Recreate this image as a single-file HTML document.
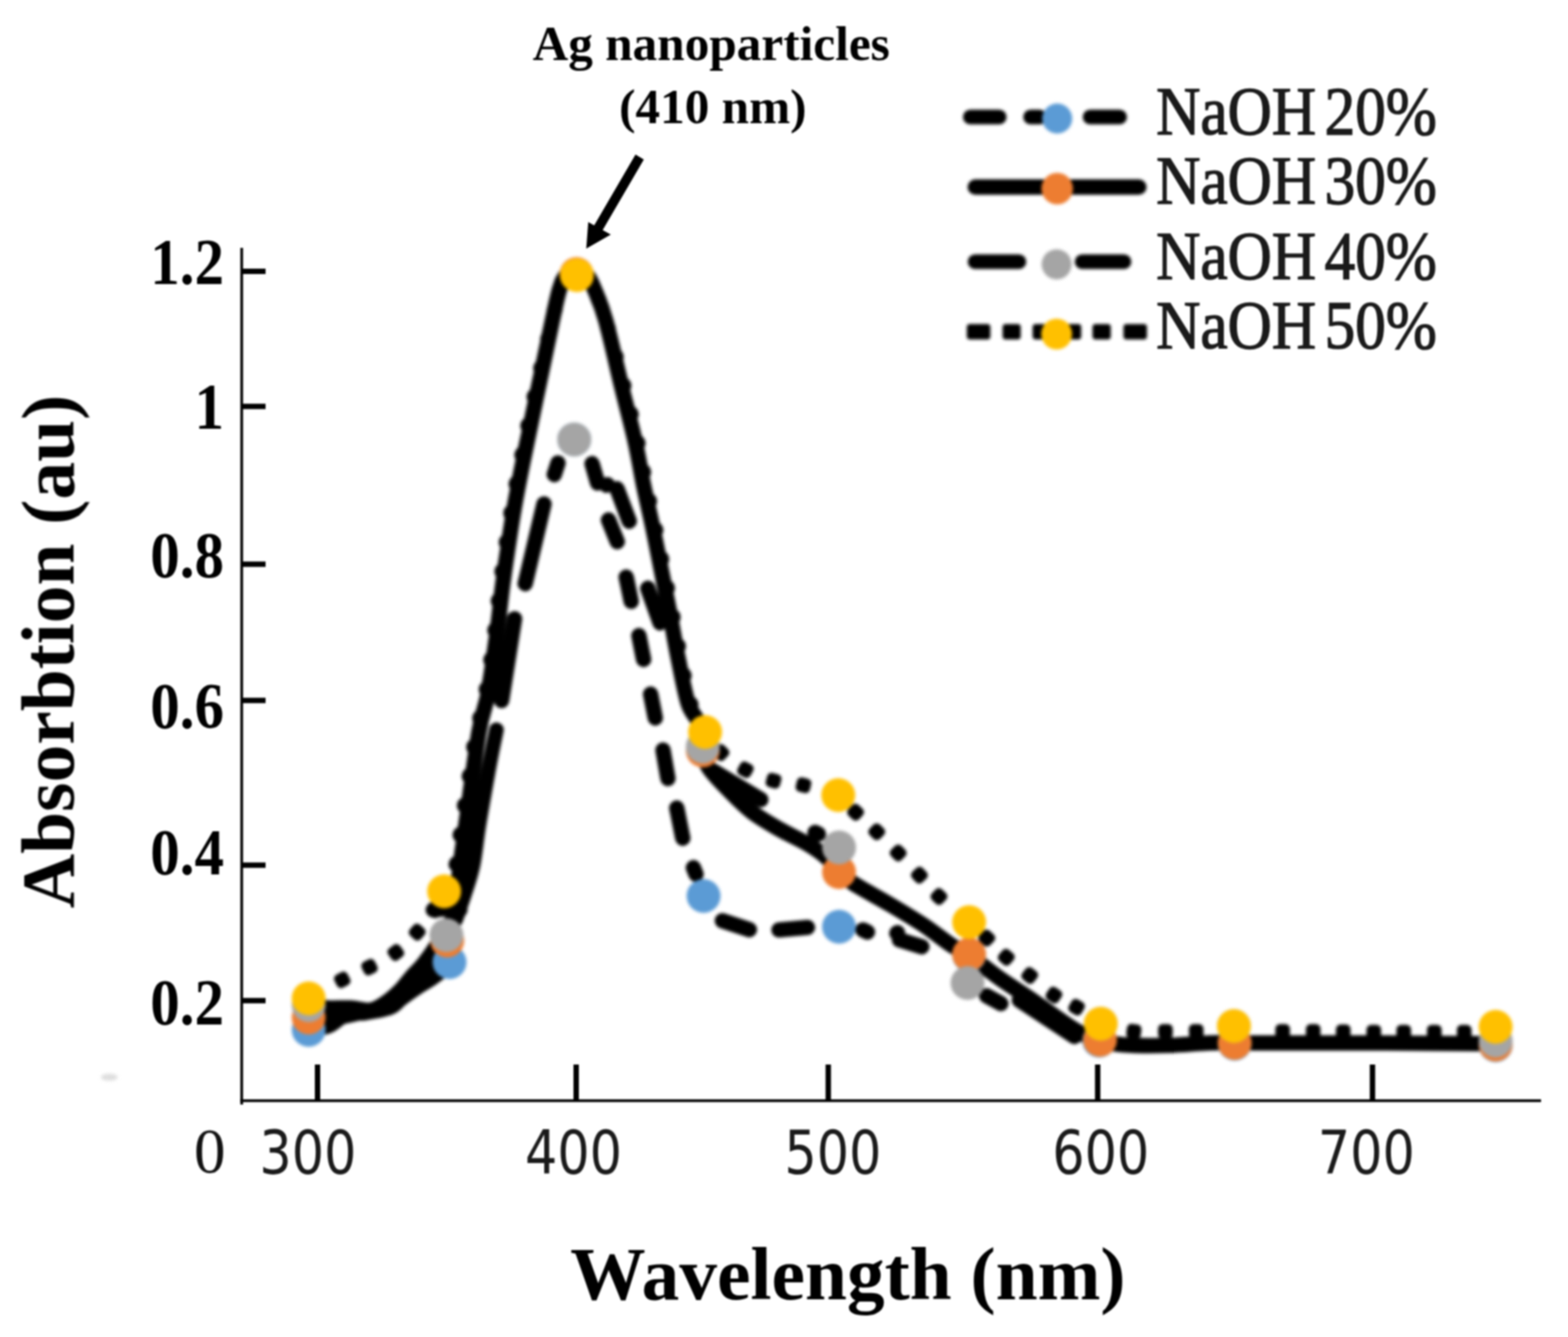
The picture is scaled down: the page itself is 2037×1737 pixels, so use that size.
<!DOCTYPE html>
<html><head><meta charset="utf-8"><title>Absorbtion spectra</title>
<style>html,body{margin:0;padding:0;background:#fff;overflow:hidden;} svg{display:block;}</style>
</head><body>
<svg width="2037" height="1737" viewBox="0 0 2037 1737">
<defs>
<filter id="bs" x="-5%" y="-5%" width="110%" height="110%" color-interpolation-filters="sRGB"><feGaussianBlur stdDeviation="2.2"/></filter>
<filter id="bo" x="-5%" y="-5%" width="110%" height="110%" color-interpolation-filters="sRGB"><feGaussianBlur stdDeviation="0.9"/></filter>
</defs>
<rect width="2037" height="1737" fill="#fff"/>
<g filter="url(#bo)">
<line x1="314" y1="322" x2="314" y2="1435" stroke="#000" stroke-width="3.5"/>
<line x1="312" y1="1430" x2="2002" y2="1430" stroke="#000" stroke-width="3.5"/>
<line x1="314" y1="352.5" x2="345" y2="352.5" stroke="#000" stroke-width="7"/>
<line x1="314" y1="528" x2="345" y2="528" stroke="#000" stroke-width="7"/>
<line x1="314" y1="733" x2="345" y2="733" stroke="#000" stroke-width="7"/>
<line x1="314" y1="910" x2="345" y2="910" stroke="#000" stroke-width="7"/>
<line x1="314" y1="1124" x2="345" y2="1124" stroke="#000" stroke-width="7"/>
<line x1="314" y1="1300" x2="345" y2="1300" stroke="#000" stroke-width="7"/>
<line x1="412.5" y1="1383" x2="412.5" y2="1430" stroke="#000" stroke-width="7"/>
<line x1="748.5" y1="1383" x2="748.5" y2="1430" stroke="#000" stroke-width="7"/>
<line x1="1076" y1="1383" x2="1076" y2="1430" stroke="#000" stroke-width="7"/>
<line x1="1426" y1="1383" x2="1426" y2="1430" stroke="#000" stroke-width="7"/>
<line x1="1783" y1="1383" x2="1783" y2="1430" stroke="#000" stroke-width="7"/>
</g>
<g filter="url(#bs)">
<path d="M401.0,1322.0 C405.8,1322.2 418.5,1324.2 430.0,1323.0 C441.5,1321.8 457.3,1317.8 470.0,1315.0 C482.7,1312.2 496.0,1310.2 506.0,1306.0 C516.0,1301.8 521.8,1297.3 530.0,1290.0 C538.2,1282.7 546.3,1272.3 555.0,1262.0 C563.7,1251.7 576.0,1241.7 582.0,1228.0 C588.0,1214.3 588.3,1197.3 591.0,1180.0 C593.7,1162.7 595.7,1141.8 598.0,1124.0 C600.3,1106.2 601.0,1101.7 605.0,1073.0 C609.0,1044.3 617.2,980.7 622.0,952.0 C626.8,923.3 630.2,921.8 634.0,901.0 C637.8,880.2 641.8,850.5 645.0,827.0 C648.2,803.5 650.5,779.3 653.0,760.0 C655.5,740.7 657.5,727.7 660.0,711.0 C662.5,694.3 664.8,678.5 668.0,660.0 C671.2,641.5 675.4,620.0 679.4,600.0 C683.4,580.0 687.6,560.0 691.8,540.0 C695.9,520.0 700.0,500.6 704.3,480.0 C708.6,459.4 713.8,434.0 717.5,416.7 C721.2,399.4 723.8,386.2 726.7,376.4 C729.6,366.6 731.3,362.4 735.0,358.0 C738.7,353.6 744.3,350.0 749.0,350.0 C753.7,350.0 759.1,353.6 763.0,358.0 C766.9,362.4 768.5,366.6 772.5,376.4 C776.5,386.2 781.1,395.4 787.0,416.7 C792.9,438.0 801.7,477.9 808.0,504.0 C814.3,530.0 820.3,552.0 825.0,573.0 C829.7,594.0 832.2,611.3 836.0,630.0 C839.8,648.7 844.2,666.7 848.0,685.0 C851.8,703.3 855.3,721.5 859.0,740.0 C862.7,758.5 866.3,776.8 870.0,796.0 C873.7,815.2 877.0,835.3 881.0,855.0 C885.0,874.7 889.5,899.8 894.0,914.0 C898.5,928.2 904.8,929.8 908.0,940.0 C911.2,950.2 910.8,965.3 913.0,975.0 C915.2,984.7 915.2,989.2 921.0,998.0 C926.8,1006.8 938.7,1018.5 948.0,1028.0 C957.3,1037.5 966.3,1046.8 977.0,1055.0 C987.7,1063.2 999.8,1070.0 1012.0,1077.0 C1024.2,1084.0 1039.5,1090.7 1050.0,1097.0 C1060.5,1103.3 1068.3,1109.0 1075.0,1115.0 C1081.7,1121.0 1084.3,1127.5 1090.0,1133.0 C1095.7,1138.5 1098.0,1141.0 1109.0,1148.0 C1120.0,1155.0 1140.8,1166.0 1156.0,1175.0 C1171.2,1184.0 1186.7,1193.2 1200.0,1202.0 C1213.3,1210.8 1226.2,1221.5 1236.0,1228.0 C1245.8,1234.5 1251.7,1236.2 1259.0,1241.0 C1266.3,1245.8 1273.2,1251.8 1280.0,1257.0 C1286.8,1262.2 1290.2,1265.2 1300.0,1272.0 C1309.8,1278.8 1327.3,1290.0 1339.0,1298.0 C1350.7,1306.0 1359.8,1313.0 1370.0,1320.0 C1380.2,1327.0 1390.0,1334.5 1400.0,1340.0 C1410.0,1345.5 1418.3,1350.0 1430.0,1353.0 C1441.7,1356.0 1455.0,1357.2 1470.0,1358.0 C1485.0,1358.8 1503.3,1358.5 1520.0,1358.0 C1536.7,1357.5 1556.0,1355.5 1570.0,1355.0 C1584.0,1354.5 1582.3,1355.0 1604.0,1355.0 C1625.7,1355.0 1667.3,1355.0 1700.0,1355.0 C1732.7,1355.0 1759.5,1354.8 1800.0,1355.0 C1840.5,1355.2 1919.2,1355.8 1943.0,1356.0" fill="none" stroke="#000" stroke-width="20" stroke-linejoin="round" stroke-linecap="round"/>
<path d="M645.0,948.0 C644.1,952.5 641.3,965.7 639.5,975.0 C637.7,984.3 636.9,987.7 634.0,1004.0 C631.1,1020.3 625.2,1053.0 622.0,1073.0 C618.8,1093.0 617.5,1109.5 614.5,1124.0 C611.5,1138.5 607.8,1148.2 604.0,1160.0 C600.2,1171.8 594.0,1189.2 592.0,1195.0" fill="none" stroke="#000" stroke-width="19" stroke-linejoin="round" stroke-linecap="round"/>
<path d="M401.0,1306.0 C405.0,1306.5 416.0,1308.5 425.0,1309.0 C434.0,1309.5 445.7,1308.5 455.0,1309.0 C464.3,1309.5 473.5,1313.0 481.0,1312.0 C488.5,1311.0 493.7,1307.2 500.0,1303.0 C506.3,1298.8 513.2,1292.8 519.0,1287.0 C524.8,1281.2 529.8,1273.8 535.0,1268.0 C540.2,1262.2 544.7,1258.7 550.0,1252.0 C555.3,1245.3 561.2,1237.0 567.0,1228.0 C572.8,1219.0 579.8,1205.7 585.0,1198.0 C590.2,1190.3 595.8,1184.7 598.0,1182.0" fill="none" stroke="#000" stroke-width="19" stroke-linejoin="round" stroke-linecap="round"/>
<path d="M401.0,1338.0 C405.3,1337.2 418.8,1336.3 427.0,1333.0 C435.2,1329.7 442.0,1320.8 450.0,1318.0 C458.0,1315.2 465.5,1317.5 475.0,1316.0 C484.5,1314.5 499.2,1312.2 507.0,1309.0 C514.8,1305.8 515.7,1301.7 522.0,1297.0 C528.3,1292.3 538.7,1285.2 545.0,1281.0 C551.3,1276.8 553.5,1276.5 560.0,1272.0 C566.5,1267.5 580.0,1257.0 584.0,1254.0" fill="none" stroke="#000" stroke-width="19" stroke-linejoin="round" stroke-linecap="round"/>
<path d="M577.0,1158.0 C579.6,1152.3 588.8,1138.2 592.5,1124.0 C596.2,1109.8 596.5,1093.0 599.5,1073.0 C602.5,1053.0 607.2,1024.2 610.5,1004.0 C613.8,983.8 615.6,969.2 619.0,952.0 C622.4,934.8 627.2,921.8 631.0,901.0 C634.8,880.2 638.8,850.5 642.0,827.0 C645.2,803.5 647.5,779.3 650.0,760.0 C652.5,740.7 654.5,727.7 657.0,711.0 C659.5,694.3 661.8,678.5 665.0,660.0 C668.2,641.5 672.4,620.0 676.4,600.0 C680.4,580.0 684.5,560.0 688.8,540.0 C693.1,520.0 697.5,500.6 702.3,480.0 C707.1,459.4 713.4,434.0 717.5,416.7 C721.6,399.4 723.8,386.2 726.7,376.4 C729.6,366.6 731.3,362.4 735.0,358.0 C738.7,353.6 744.3,350.0 749.0,350.0 C753.7,350.0 759.1,353.6 763.0,358.0 C766.9,362.4 768.5,366.6 772.5,376.4 C776.5,386.2 780.6,395.4 787.0,416.7 C793.4,438.0 804.2,477.9 811.0,504.0 C817.8,530.0 823.3,552.0 828.0,573.0 C832.7,594.0 835.2,611.3 839.0,630.0 C842.8,648.7 847.2,666.7 851.0,685.0 C854.8,703.3 858.3,721.5 862.0,740.0 C865.7,758.5 869.3,776.8 873.0,796.0 C876.7,815.2 880.0,835.3 884.0,855.0 C888.0,874.7 892.5,899.8 897.0,914.0 C901.5,928.2 907.8,933.8 911.0,940.0 C914.2,946.2 915.2,949.2 916.0,951.0" fill="none" stroke="#000" stroke-width="20" stroke-dasharray="1 37.5" stroke-linecap="round" stroke-dashoffset="0"/>
<rect x="-9.5" y="-9.5" width="19" height="19" rx="6" transform="translate(444.6 1273) rotate(-27.1)"/>
<rect x="-9.5" y="-9.5" width="19" height="19" rx="6" transform="translate(480 1256.5) rotate(-27.0)"/>
<rect x="-9.5" y="-9.5" width="19" height="19" rx="6" transform="translate(514.2 1237.5) rotate(-36.3)"/>
<rect x="-9.5" y="-9.5" width="19" height="19" rx="6" transform="translate(542 1211) rotate(-48.1)"/>
<rect x="-9.5" y="-9.5" width="19" height="19" rx="6" transform="translate(564 1182) rotate(-56.6)"/>
<rect x="-9.5" y="-9.5" width="19" height="19" rx="6" transform="translate(936.6 977.7) rotate(43.1)"/>
<rect x="-9.5" y="-9.5" width="19" height="19" rx="6" transform="translate(968.4 1000) rotate(28.2)"/>
<rect x="-9.5" y="-9.5" width="19" height="19" rx="6" transform="translate(1004.9 1014.3) rotate(14.9)"/>
<rect x="-9.5" y="-9.5" width="19" height="19" rx="6" transform="translate(1043.8 1020.1) rotate(13.0)"/>
<rect x="-9.5" y="-9.5" width="19" height="19" rx="6" transform="translate(1111.5 1055.3) rotate(43.6)"/>
<rect x="-9.5" y="-9.5" width="19" height="19" rx="6" transform="translate(1139 1080.6) rotate(43.7)"/>
<rect x="-9.5" y="-9.5" width="19" height="19" rx="6" transform="translate(1166.8 1108.2) rotate(45.5)"/>
<rect x="-9.5" y="-9.5" width="19" height="19" rx="6" transform="translate(1194.4 1137) rotate(46.8)"/>
<rect x="-9.5" y="-9.5" width="19" height="19" rx="6" transform="translate(1219.8 1164.7) rotate(43.4)"/>
<rect x="-9.5" y="-9.5" width="19" height="19" rx="6" transform="translate(1282 1218.8) rotate(43.4)"/>
<rect x="-9.5" y="-9.5" width="19" height="19" rx="6" transform="translate(1307.3 1243.7) rotate(41.0)"/>
<rect x="-9.5" y="-9.5" width="19" height="19" rx="6" transform="translate(1337.7 1267.3) rotate(38.4)"/>
<rect x="-9.5" y="-9.5" width="19" height="19" rx="6" transform="translate(1369.2 1292.8) rotate(34.1)"/>
<rect x="-9.5" y="-9.5" width="19" height="19" rx="6" transform="translate(1398.6 1308.5) rotate(30.1)"/>
<rect x="-9.5" y="-9.5" width="19" height="19" rx="6" transform="translate(1473 1340) rotate(6.8)"/>
<rect x="-9.5" y="-9.5" width="19" height="19" rx="6" transform="translate(1514 1340) rotate(0.0)"/>
<rect x="-9.5" y="-9.5" width="19" height="19" rx="6" transform="translate(1554 1340) rotate(-1.3)"/>
<rect x="-9.5" y="-9.5" width="19" height="19" rx="6" transform="translate(1666.3 1340) rotate(1.1)"/>
<rect x="-9.5" y="-9.5" width="19" height="19" rx="6" transform="translate(1706 1340) rotate(0.4)"/>
<rect x="-9.5" y="-9.5" width="19" height="19" rx="6" transform="translate(1745 1340.5) rotate(0.7)"/>
<rect x="-9.5" y="-9.5" width="19" height="19" rx="6" transform="translate(1784.7 1341) rotate(0.4)"/>
<rect x="-9.5" y="-9.5" width="19" height="19" rx="6" transform="translate(1823.6 1341) rotate(0.0)"/>
<rect x="-9.5" y="-9.5" width="19" height="19" rx="6" transform="translate(1863.3 1341) rotate(0.0)"/>
<rect x="-9.5" y="-9.5" width="19" height="19" rx="6" transform="translate(1902.2 1341) rotate(-0.7)"/>
<path d="M724.9,601.5 L720.1,616.5 M706.7,654.7 L682.3,758.3 M668.4,803.9 L651.6,910.1 M769.2,602.4 L776.4,627.5 M788.0,630.2 L789.0,629.8 M801.6,635.1 L817.4,677.1 M790.5,675.5 L801.9,703.7 M813.5,749.8 L820.0,781.2 M830.0,825.8 L836.1,856.8 M845.2,901.7 L851.3,932.7 M861.3,974.4 L867.7,1011.4 M879.2,1049.7 L887.0,1088.9 M900.8,1127.3 L904.2,1135.7 M841.5,764.4 L857.5,809.1 M927.6,1002.2 L988.4,1038.8 M1058.9,1081.5 L1063.1,1083.5 M938.5,1196.2 L973.5,1207.8 M1012.0,1208.1 L1049.0,1204.9 M1121.1,1208.2 L1126.9,1210.8 M1168.5,1221.0 L1197.5,1230.0 M1165.1,1212.3 L1165.9,1211.7 M1281.8,1293.8 L1300.2,1303.7 M563.0,1182.0 L594.0,1179.0 M1324.3,1299.5 L1395.7,1346.5" fill="none" stroke="#000" stroke-width="20" stroke-linecap="round"/>
<circle cx="401" cy="1338" r="22" fill="#5B9BD5"/>
<circle cx="584" cy="1250" r="22" fill="#5B9BD5"/>
<circle cx="746" cy="571" r="22" fill="#5B9BD5"/>
<circle cx="914" cy="1164" r="22" fill="#5B9BD5"/>
<circle cx="1090" cy="1204" r="22" fill="#5B9BD5"/>
<circle cx="1259" cy="1241" r="22" fill="#5B9BD5"/>
<circle cx="1428" cy="1352" r="22" fill="#5B9BD5"/>
<circle cx="1604" cy="1356" r="22" fill="#5B9BD5"/>
<circle cx="1943" cy="1358" r="22" fill="#5B9BD5"/>
<circle cx="401" cy="1322" r="22" fill="#ED7D31"/>
<circle cx="581" cy="1222" r="22" fill="#ED7D31"/>
<circle cx="749" cy="356" r="22" fill="#ED7D31"/>
<circle cx="913" cy="975" r="22" fill="#ED7D31"/>
<circle cx="1090" cy="1133" r="22" fill="#ED7D31"/>
<circle cx="1259" cy="1240" r="22" fill="#ED7D31"/>
<circle cx="1429" cy="1351" r="22" fill="#ED7D31"/>
<circle cx="1604" cy="1355" r="22" fill="#ED7D31"/>
<circle cx="1943" cy="1357" r="22" fill="#ED7D31"/>
<circle cx="401" cy="1306" r="22" fill="#A5A5A5"/>
<circle cx="580" cy="1215" r="22" fill="#A5A5A5"/>
<circle cx="746" cy="571" r="22" fill="#A5A5A5"/>
<circle cx="913" cy="970" r="22" fill="#A5A5A5"/>
<circle cx="1090" cy="1101" r="22" fill="#A5A5A5"/>
<circle cx="1257" cy="1277" r="22" fill="#A5A5A5"/>
<circle cx="1430" cy="1330" r="22" fill="#A5A5A5"/>
<circle cx="1603" cy="1333" r="22" fill="#A5A5A5"/>
<circle cx="1943" cy="1352" r="22" fill="#A5A5A5"/>
<circle cx="401" cy="1297" r="22" fill="#FFC000"/>
<circle cx="577" cy="1158" r="22" fill="#FFC000"/>
<circle cx="749.5" cy="357.5" r="22" fill="#FFC000"/>
<circle cx="916" cy="951" r="22" fill="#FFC000"/>
<circle cx="1089" cy="1033" r="22" fill="#FFC000"/>
<circle cx="1259" cy="1198" r="22" fill="#FFC000"/>
<circle cx="1430" cy="1330" r="22" fill="#FFC000"/>
<circle cx="1603" cy="1333" r="22" fill="#FFC000"/>
<circle cx="1943" cy="1334" r="22" fill="#FFC000"/>
<ellipse cx="142" cy="1399.5" rx="11" ry="4.5" fill="#dedede"/>
<path d="M1260.5,152.0 L1298.1,152.0" stroke="#000" stroke-width="19" stroke-linecap="round"/>
<path d="M1338.8,152.0 L1350.5,152.0" stroke="#000" stroke-width="19" stroke-linecap="round"/>
<path d="M1416.1,152.0 L1454.5,152.0" stroke="#000" stroke-width="19" stroke-linecap="round"/>
<circle cx="1373.4" cy="154" r="19.5" fill="#5B9BD5"/>
<path d="M1267.0,243.0 L1479.5,243.0" stroke="#000" stroke-width="20" stroke-linecap="round"/>
<circle cx="1373.4" cy="245" r="20.5" fill="#ED7D31"/>
<path d="M1266.7,340.0 L1323.7,340.0" stroke="#000" stroke-width="19" stroke-linecap="round"/>
<path d="M1405.8,340.0 L1460.2,340.0" stroke="#000" stroke-width="19" stroke-linecap="round"/>
<circle cx="1372.7" cy="343.4" r="19.5" fill="#A5A5A5"/>
<rect x="1256" y="421" width="30.59999999999991" height="20" rx="4" fill="#000"/>
<rect x="1302.5" y="421" width="23.5" height="20" rx="4" fill="#000"/>
<rect x="1341.5" y="421" width="19.5" height="20" rx="4" fill="#000"/>
<rect x="1385" y="421" width="19.59999999999991" height="20" rx="4" fill="#000"/>
<rect x="1419.3" y="421" width="23.700000000000045" height="20" rx="4" fill="#000"/>
<rect x="1459.5" y="421" width="30.5" height="20" rx="4" fill="#000"/>
<circle cx="1372.7" cy="434" r="20" fill="#FFC000"/>
</g>
<g filter="url(#bo)">
<line x1="831" y1="204" x2="775" y2="300" stroke="#000" stroke-width="12.5"/><polygon points="761.6,323 764.2,288.4 793.5,304.8" fill="#000"/>
<text transform="translate(1502 173.6) scale(0.905 1)" x="0" y="0" font-family="'Liberation Serif','Times New Roman',serif" font-size="88" fill="#1a1a1a" stroke="#1a1a1a" stroke-width="1.6" word-spacing="-10">NaOH 20%</text>
<text transform="translate(1502 264) scale(0.905 1)" x="0" y="0" font-family="'Liberation Serif','Times New Roman',serif" font-size="88" fill="#1a1a1a" stroke="#1a1a1a" stroke-width="1.6" word-spacing="-10">NaOH 30%</text>
<text transform="translate(1502 361.5) scale(0.905 1)" x="0" y="0" font-family="'Liberation Serif','Times New Roman',serif" font-size="88" fill="#1a1a1a" stroke="#1a1a1a" stroke-width="1.6" word-spacing="-10">NaOH 40%</text>
<text transform="translate(1502 452) scale(0.905 1)" x="0" y="0" font-family="'Liberation Serif','Times New Roman',serif" font-size="88" fill="#1a1a1a" stroke="#1a1a1a" stroke-width="1.6" word-spacing="-10">NaOH 50%</text>
<text x="291" y="369" text-anchor="end" font-family="'Liberation Serif','Times New Roman',serif" font-weight="700" font-size="85" transform="translate(291 0) scale(0.9 1) translate(-291 0)">1.2</text>
<text x="291" y="557" text-anchor="end" font-family="'Liberation Serif','Times New Roman',serif" font-weight="700" font-size="85" transform="translate(291 0) scale(0.9 1) translate(-291 0)">1</text>
<text x="291" y="750.5" text-anchor="end" font-family="'Liberation Serif','Times New Roman',serif" font-weight="700" font-size="85" transform="translate(291 0) scale(0.9 1) translate(-291 0)">0.8</text>
<text x="291" y="946.5" text-anchor="end" font-family="'Liberation Serif','Times New Roman',serif" font-weight="700" font-size="85" transform="translate(291 0) scale(0.9 1) translate(-291 0)">0.6</text>
<text x="291" y="1136" text-anchor="end" font-family="'Liberation Serif','Times New Roman',serif" font-weight="700" font-size="85" transform="translate(291 0) scale(0.9 1) translate(-291 0)">0.4</text>
<text x="291" y="1331.5" text-anchor="end" font-family="'Liberation Serif','Times New Roman',serif" font-weight="700" font-size="85" transform="translate(291 0) scale(0.9 1) translate(-291 0)">0.2</text>
<text x="293" y="1523" text-anchor="end" font-family="'Liberation Serif','Times New Roman',serif" font-weight="400" font-size="82" fill="#111">0</text>
<text transform="translate(400 1525) scale(0.93 1)" x="0" y="0" text-anchor="middle" font-family="'DejaVu Sans Condensed','DejaVu Sans',sans-serif" font-size="79" fill="#1a1a1a">300</text>
<text transform="translate(745 1525) scale(0.93 1)" x="0" y="0" text-anchor="middle" font-family="'DejaVu Sans Condensed','DejaVu Sans',sans-serif" font-size="79" fill="#1a1a1a">400</text>
<text transform="translate(1082 1525) scale(0.93 1)" x="0" y="0" text-anchor="middle" font-family="'DejaVu Sans Condensed','DejaVu Sans',sans-serif" font-size="79" fill="#1a1a1a">500</text>
<text transform="translate(1430 1525) scale(0.93 1)" x="0" y="0" text-anchor="middle" font-family="'DejaVu Sans Condensed','DejaVu Sans',sans-serif" font-size="79" fill="#1a1a1a">600</text>
<text transform="translate(1775 1525) scale(0.93 1)" x="0" y="0" text-anchor="middle" font-family="'DejaVu Sans Condensed','DejaVu Sans',sans-serif" font-size="79" fill="#1a1a1a">700</text>
<text x="1101.5" y="1688" text-anchor="middle" font-family="'Liberation Serif','Times New Roman',serif" font-weight="700" font-size="98">Wavelength (nm)</text>
<text transform="translate(95.5 846.5) rotate(-90)" x="0" y="0" text-anchor="middle" font-family="'Liberation Serif','Times New Roman',serif" font-weight="700" font-size="98">Absorbtion (au)</text>
<text x="924" y="78" text-anchor="middle" font-family="'Liberation Serif','Times New Roman',serif" font-weight="700" font-size="64">Ag nanoparticles</text>
<text x="926" y="160" text-anchor="middle" font-family="'Liberation Serif','Times New Roman',serif" font-weight="700" font-size="64">(410 nm)</text>
</g>
</svg>
</body></html>
